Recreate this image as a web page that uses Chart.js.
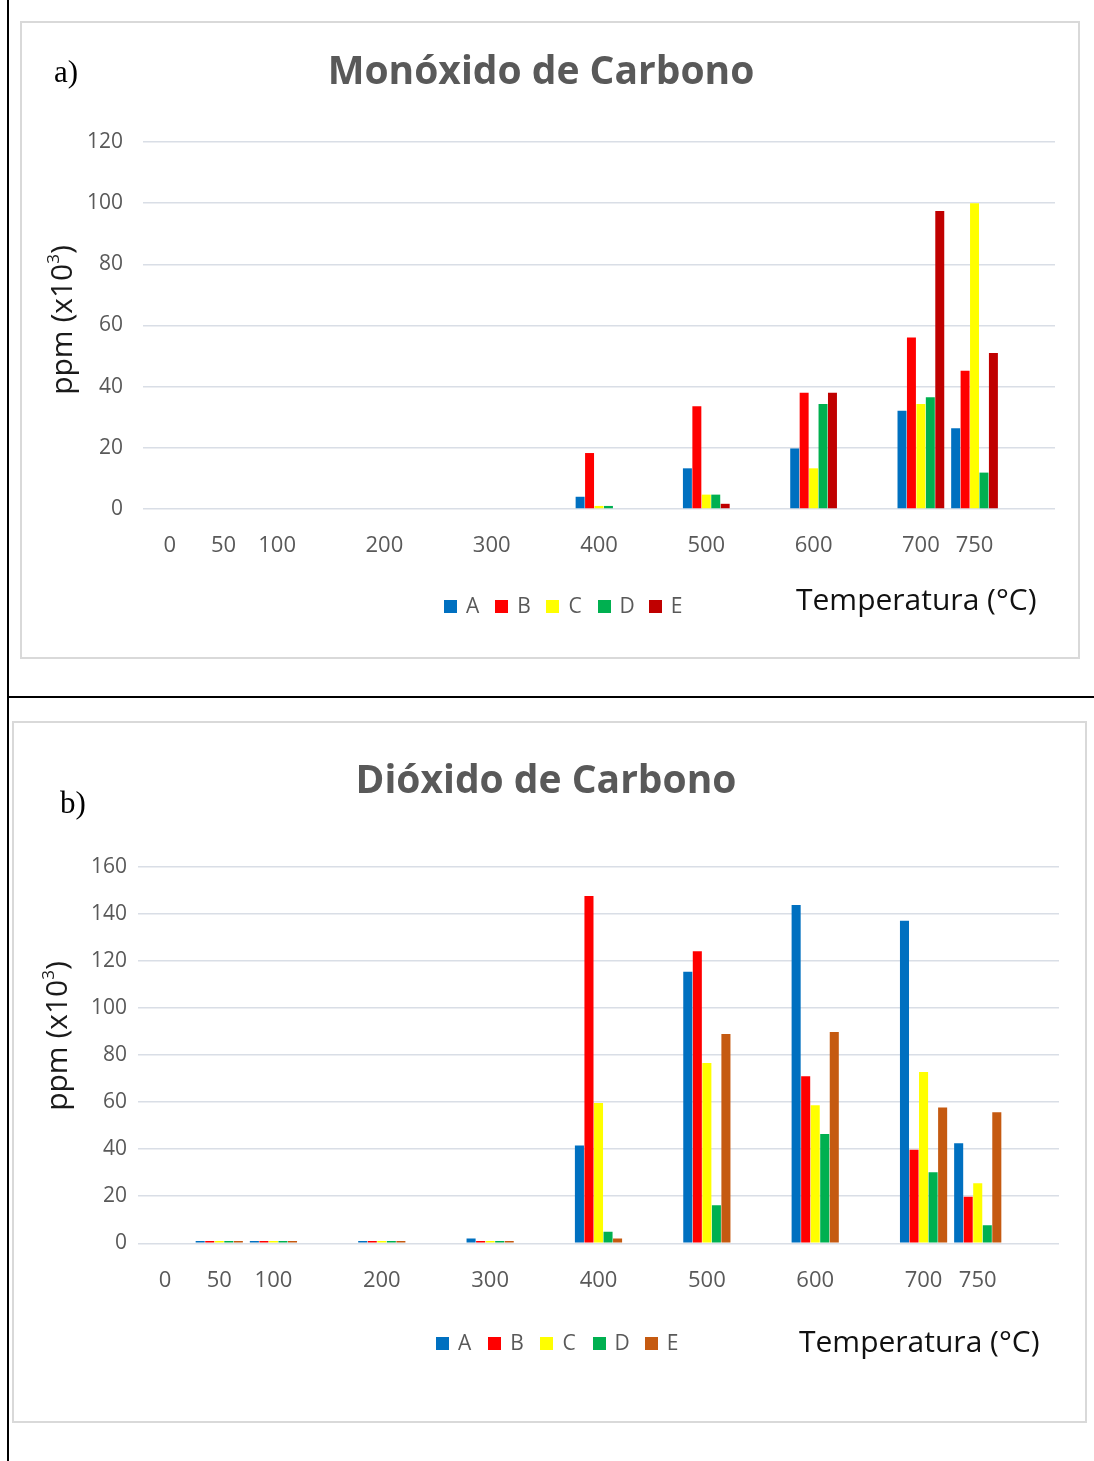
<!DOCTYPE html>
<html>
<head>
<meta charset="utf-8">
<script src="https://cdn.jsdelivr.net/npm/chart.js@4.4.0/dist/chart.umd.min.js"></script>
<style>
body{margin:0;width:1094px;height:1461px;background:#fff;position:relative;overflow:hidden;font-family:"Open Sans",sans-serif}
.abs{position:absolute}
.box{position:absolute;border:2px solid #d9d9d9;box-sizing:border-box}
.title{position:absolute;font-weight:700;color:#595959;font-size:39px;transform:translate(-50%,-50%);white-space:nowrap}
.tag{position:absolute;font-family:"Liberation Serif",serif;font-size:31px;color:#000;transform:translateY(-50%)}
.ytitle{position:absolute;font-size:30px;color:#1a1a1a;white-space:nowrap;transform:translate(-50%,-50%) rotate(-90deg)}
.ytitle sup{font-size:17px;vertical-align:13px;line-height:0}
.xtitle{position:absolute;font-size:30px;color:#111;white-space:nowrap;transform:translateY(-50%)}
.legend{position:absolute;height:20px;transform:translateY(-50%)}
.legend div{position:absolute;top:0;height:20px;font-size:21px;color:#595959;line-height:20px;white-space:nowrap}
.legend span{display:inline-block;width:13px;height:13px;margin-right:9px;vertical-align:0px}
canvas{position:absolute;left:0}
</style>
</head>
<body>
<!-- document frame lines -->
<div class="abs" style="left:7px;top:0;width:2px;height:1461px;background:#000"></div>
<div class="abs" style="left:7px;top:696px;width:1087px;height:2px;background:#000"></div>

<div class="box" style="left:20px;top:21px;width:1060px;height:638px"></div>
<div class="box" style="left:12px;top:721px;width:1075px;height:702px"></div>

<canvas id="chartCO" width="1094" height="697" style="top:0"></canvas>
<canvas id="chartCO2" width="1094" height="764" style="top:697px"></canvas>

<div class="tag" style="left:54px;top:72px">a)</div>
<div class="title" style="left:541px;top:68px">Monóxido de Carbono</div>
<div class="ytitle" style="left:60px;top:320px">ppm (x10<sup>3</sup>)</div>
<div class="xtitle" style="left:796px;top:598px">Temperatura (°C)</div>
<div class="legend" id="legCO" style="left:444px;top:605px"></div>

<div class="tag" style="left:60px;top:803px">b)</div>
<div class="title" style="left:546px;top:777px">Dióxido de Carbono</div>
<div class="ytitle" style="left:55px;top:1036px">ppm (x10<sup>3</sup>)</div>
<div class="xtitle" style="left:799px;top:1340px">Temperatura (°C)</div>
<div class="legend" id="legCO2" style="left:436px;top:1342px"></div>

<script>
// categories every 50 °C, only some of them are labelled
var temps = ['0','50','100','','200','','300','','400','','500','','600','','700','750','']
var series = ['A','B','C','D','E']

// Monóxido de Carbono, ppm x10^3
var coA = [null,null,null,null,null,null,null,null,4,null,13.3,null,19.8,null,32.1,26.4,null]
var coB = [null,null,null,null,null,null,null,null,18.3,null,33.6,null,38,null,56.1,45.2,null]
var coC = [null,null,null,null,null,null,null,null,1,null,4.7,null,13.3,null,34.3,100,null]
var coD = [null,null,null,null,null,null,null,null,1,null,4.7,null,34.3,null,36.5,11.9,null]
var coE = [null,null,null,null,null,null,null,null,null,null,1.7,null,38,null,97.4,51,null]

// Dióxido de Carbono, ppm x10^3
var co2A = [null,1,1,null,1,null,2,null,41.5,null,115.3,null,143.7,null,137,42.5,null]
var co2B = [null,1,1,null,1,null,1,null,147.5,null,124,null,70.9,null,39.7,19.8,null]
var co2C = [null,1,1,null,1,null,1,null,59.6,null,76.6,null,58.6,null,72.8,25.5,null]
var co2D = [null,1,1,null,1,null,1,null,4.9,null,16.2,null,46.4,null,30.2,7.7,null]
var co2E = [null,1,1,null,1,null,1,null,2,null,88.9,null,89.8,null,57.7,55.7,null]

var coTicks = [0,20,40,60,80,100,120]
var co2Ticks = [0,20,40,60,80,100,120,140,160]

var coColors = ['#0070C0','#FF0000','#FFFF00','#00B050','#C00000']
var co2Colors = ['#0070C0','#FF0000','#FFFF00','#00B050','#C55A11']

var gridColor = 'rgb(217,222,230)'
var tickColor = '#595959'

function makeSets(arrs, colors){
    var sets = []
    arrs.forEach(function(d, i){
        sets.push({
            label: series[i],
            data: d,
            backgroundColor: colors[i],
            borderWidth: 0,
            categoryPercentage: 0.88,
            barPercentage: 0.95
        })
    })
    return sets
}

//builds one bar chart, area = where the plot has to sit inside the canvas
function makeChart(id, arrs, colors, ticks, area){
    var cv = document.getElementById(id)
    var yMax = ticks[ticks.length-1]
    return new Chart(cv.getContext('2d'), {
        type: 'bar',
        data: { labels: temps, datasets: makeSets(arrs, colors) },
        options: {
            responsive: false,
            animation: false,
            layout: { padding: { left: 0, top: area.top, right: cv.width - area.right, bottom: cv.height - area.bottom - 60 } },
            plugins: { legend: { display: false }, tooltip: { enabled: false } },
            scales: {
                x: {
                    grid: { display: false, drawTicks: false },
                    border: { display: false },
                    ticks: { autoSkip: false, maxRotation: 0, color: tickColor, padding: area.xPad,
                             font: { family: 'Open Sans', size: 22 } },
                    afterFit: function(s){ s.height = 60 }
                },
                y: {
                    min: 0, max: yMax,
                    afterBuildTicks: function(s){ s.ticks = ticks.map(function(v){ return { value: v } }) },
                    grid: { color: gridColor, lineWidth: 1.5, drawTicks: false },
                    border: { display: false },
                    ticks: { color: tickColor, padding: area.yPad, font: { family: 'Open Sans', size: 21 } },
                    afterFit: function(s){ s.width = area.left }
                }
            }
        }
    })
}

function makeLegend(id, colors, pitch){
    var el = document.getElementById(id)
    series.forEach(function(name, i){
        var d = document.createElement('div')
        d.style.left = (i * pitch) + 'px'
        d.innerHTML = '<span style="background:' + colors[i] + '"></span>' + name
        el.appendChild(d)
    })
}

makeChart('chartCO', [coA,coB,coC,coD,coE], coColors, coTicks,
    { left: 143, right: 1055, top: 142, bottom: 509, xPad: 24, yPad: 20 })
makeChart('chartCO2', [co2A,co2B,co2C,co2D,co2E], co2Colors, co2Ticks,
    { left: 138, right: 1059, top: 169.6, bottom: 546.3, xPad: 24, yPad: 11 })

makeLegend('legCO', coColors, 51.2)
makeLegend('legCO2', co2Colors, 52.2)
</script>
</body>
</html>
